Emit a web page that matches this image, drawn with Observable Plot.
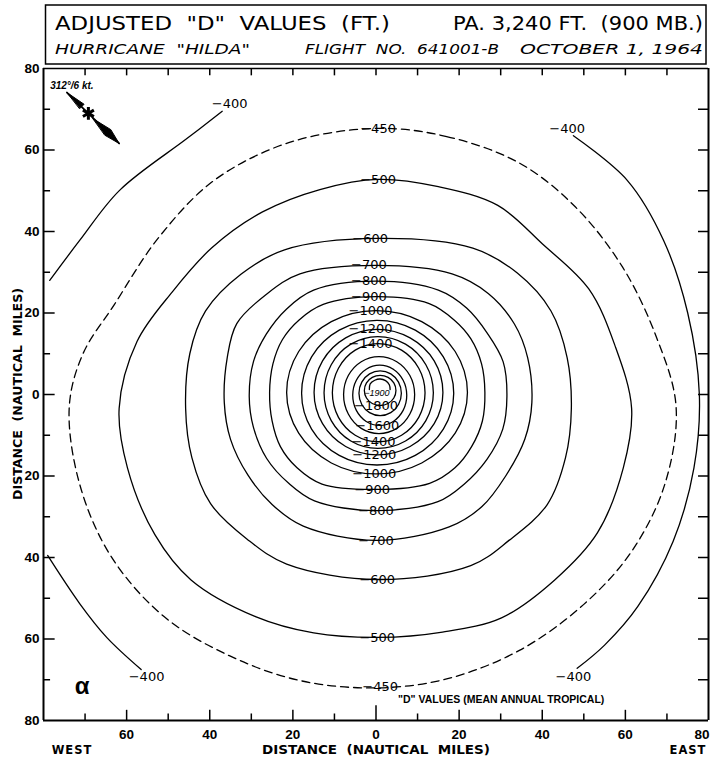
<!DOCTYPE html>
<html><head><meta charset="utf-8">
<script src="https://cdn.jsdelivr.net/npm/d3@7"></script>
<script src="https://cdn.jsdelivr.net/npm/@observablehq/plot@0.6"></script>
<style>body{margin:0;background:#fff} svg{display:block}</style>
</head><body><div id="chart"></div>
<script>
// ---- contour lines (nautical miles, x east, y north) ----
const c450 = [[0,65.3],[17,63.3],[34.5,56.8],[48,46],[59.3,31.3],[67.5,14],[72.2,-3],[69.5,-22],[61.5,-38.5],[50,-51.5],[34.5,-62.8],[17,-69.8],[0,-72],[-18.3,-70.2],[-35.3,-64.1],[-51,-54.5],[-63.7,-39.8],[-71.3,-22],[-73.8,-3],[-70.5,10],[-63,22],[-52.3,38.5],[-39,52.5],[-21,61.8]];
const c500 = [[0.5,52.8],[15,51],[29.3,46.4],[40,37],[51.2,25.9],[57.5,12],[61.5,-3.4],[59.5,-18],[53.3,-33.9],[43,-45.5],[30.2,-54.8],[16,-58.3],[0.5,-59.6],[-15,-58.5],[-29,-54.5],[-44.5,-45.5],[-53.2,-34.4],[-59.8,-18],[-61.8,-3.4],[-57.5,13],[-49,25.2],[-39.5,36],[-27.3,44.8],[-13.5,50.3]];
const c600 = [[0.5,38.3],[23.3,35.9],[34,29.8],[42.1,20.5],[46,9],[47,-3.5],[45.6,-15.5],[41.2,-27],[32,-35.8],[22.8,-42],[0.5,-45.4],[-21.5,-41.6],[-31,-35.5],[-39.8,-26.8],[-44.3,-15.5],[-45.8,-3.5],[-44.8,10],[-41,20.5],[-32.5,29.5],[-22,35.5]];
const c700 = [[0,31.7],[18.3,29.6],[27,24.8],[33.3,17.3],[36.5,9],[37.5,-2],[35.8,-11],[31.2,-20],[25.5,-27.5],[17.6,-32.5],[0,-35.8],[-17.5,-32.3],[-25,-27],[-30.8,-19.8],[-35,-11],[-36.5,-2],[-35.8,9],[-33.5,17.4],[-26.5,24.5],[-18.3,29.6]];
const c800 = [[0,27.8],[15,25.6],[21.8,21.2],[26.8,15],[30.6,8],[31.5,-0.5],[30.5,-8.5],[26.7,-15.9],[21.2,-22],[14.9,-26.3],[0,-28.5],[-14.8,-26.1],[-21,-21.8],[-26.3,-15.7],[-29.5,-8],[-30.5,-0.5],[-29.5,8],[-26.4,14.8],[-21.5,21],[-15,25.6]];
const c900 = [[0,24],[12.8,22.3],[18.8,18.3],[22.8,13.7],[25.4,7.5],[26.2,0.5],[25.6,-6.5],[23,-12.8],[19,-18],[12.9,-21.8],[0,-23.3],[-13,-22],[-19,-18],[-23,-12.8],[-25,-6.5],[-25.6,0.5],[-24.8,7.5],[-22.5,13.5],[-18.5,18.3],[-12.7,22.1]];
const c1000 = [[0,20.6],[11,17.9],[19.05,10.55],[22,0.5],[19.05,-9.5],[11,-16.8],[0,-19.5],[-10.75,-16.8],[-18.6,-9.5],[-21.5,0.5],[-18.6,10.55],[-10.75,17.9]];
const c1100 = [[0.2,18.2],[9.45,15.8],[16.2,9.25],[18.7,0.3],[16.2,-8.5],[9.45,-14.95],[0.2,-17.3],[-8.85,-14.95],[-15.5,-8.5],[-17.9,0.3],[-15.5,9.25],[-8.85,15.8]];
const c1200 = [[0.3,16],[8.2,13.9],[14,8.25],[16.1,0.5],[14,-7.15],[8.2,-12.75],[0.3,-14.8],[-7.3,-12.75],[-12.86,-7.15],[-14.9,0.5],[-12.86,8.25],[-7.3,13.9]];
const c1300 = [[0.4,14.2],[7.1,12.35],[12,7.3],[13.8,0.4],[12,-6.4],[7.1,-11.4],[0.4,-13.2],[-6.05,-11.4],[-10.77,-6.4],[-12.5,0.4],[-10.77,7.3],[-6.05,12.35]];
const c1400 = [[0.5,12.5],[6.15,10.88],[10.29,6.45],[11.8,0.4],[10.29,-5.6],[6.15,-9.99],[0.5,-11.6],[-5,-9.99],[-9.03,-5.6],[-10.5,0.4],[-9.03,6.45],[-5,10.88]];
const c1500 = [[0.7,9.3],[5,8.05],[8.15,4.65],[9.3,0],[8.15,-4.8],[5,-8.31],[0.7,-9.6],[-3.55,-8.31],[-6.66,-4.8],[-7.8,0],[-6.66,4.65],[-3.55,8.05]];
const c1600 = [[0.9,7.2],[4.15,6.21],[6.53,3.5],[7.4,-0.2],[6.53,-3.9],[4.15,-6.61],[0.9,-7.6],[-2.35,-6.61],[-4.73,-3.9],[-5.6,-0.2],[-4.73,3.5],[-2.35,6.21]];
const c1700 = [[1,5.8],[3.55,5.06],[5.42,3.05],[6.1,0.3],[5.42,-2.45],[3.55,-4.46],[1,-5.2],[-1.55,-4.46],[-3.42,-2.45],[-4.1,0.3],[-3.42,3.05],[-1.55,5.06]];
const c1800 = [[1,4.7],[2.9,4.2],[4.29,2.85],[4.8,1],[4.29,-0.85],[2.9,-2.2],[1,-2.7],[-0.9,-2.2],[-2.29,-0.85],[-2.8,1],[-2.29,2.85],[-0.9,4.2]];
const c1900 = [[-1.6,1.2],[-1.4,2.6],[-0.3,3.5],[1,3.8],[2.3,3.4],[3.2,2.4],[3.4,1.2]];
const c400nw = [[-78.5,28],[-71.3,37.8],[-61.7,50.1],[-45.5,62.8],[-37,69.5]];
const c400sw = [[-79,-39.5],[-71.3,-51.3],[-64.8,-59.6],[-56.5,-67.5]];
const c400e = [[47.5,63.5],[60.5,52.5],[69.2,37.8],[75,20],[77.8,0],[76.5,-18],[71.5,-36],[63,-52],[55,-61.5],[48.4,-67.2]];

const contourLabels = [
  ["−450",0.5,65.3],["−500",0.5,52.8],["−600",-1.4,38.3],["−700",-1.7,31.7],["−800",-1.7,27.8],
  ["−900",-1.7,24],["−1000",-1.3,20.6],["−1200",-1.3,16],["−1400",-1.3,12.5],
  ["−1800",0,-2.7],["−1600",0.3,-7.6],["−1400",-0.6,-11.5],["−1200",-0.4,-14.8],["−1000",-0.4,-19.4],
  ["−900",-0.9,-23.3],["−800",0,-28.5],["−700",0,-35.8],["−600",0.3,-45.4],["−500",0.3,-59.6],["−450",1,-71.8],
  ["−400",-35.2,71.4],["−400",46,65.3],["−400",-55.2,-69.4],["−400",47.5,-69.4]
];
const centerLabel = [["−1900",0.2,0.4]];

// storm motion symbol
const motionText = [["312°/6 kt.",-78.4,75.8]];
const motionStar = [[-69.2,69]];
const motionWedges = [
  [[-74.35,74.1],[-70.24,71.22],[-71.26,70.18]],
  [[-68.1,67.7],[-63.8,65.0],[-61.8,61.6],[-65.2,63.6]]
];
const motionShaft = [[-74.35,74.1],[-61.8,61.6]];

// axes
const yTickMajor = [-60,-40,-20,0,20,40,60];
const yTickMinor = [-70,-50,-30,-10,10,30,50,70];
const yLabelPos = [-80,-60,-40,-20,0,20,40,60,80];
const yTickLabels = ["80","60","40","20","0","20","40","60","80"];
const xTickMajor = [-60,-40,-20,20,40,60];
const xTickMinor = [-70,-50,-30,-10,10,30,50,70];
const xLabelPos = [-60,-40,-20,0,20,40,60];
const xTickLabels = ["60","40","20","0","20","40","60"];
const xEndLabel = [[80,"80"]];

const closedRings = [[500,c500],[600,c600],[700,c700],[800,c800],[900,c900],[1000,c1000],[1100,c1100],[1200,c1200],[1300,c1300],[1400,c1400],[1500,c1500],[1600,c1600],[1700,c1700],[1800,c1800]];
const ringTable = closedRings.flatMap(([lev, pts]) => pts.map(([x,y]) => ({level: lev, x, y})));
const dashedTable = c450.map(([x,y]) => ({x, y}));
const openLines = [["1900",c1900],["400nw",c400nw],["400sw",c400sw],["400e",c400e]];
const openTable = openLines.flatMap(([id, pts]) => pts.map(([x,y]) => ({id, x, y})));
const wedgeTable = motionWedges.flatMap((pts,i) => pts.map(([x,y]) => ({id:i, x, y})));
const allTicks = yTickMinor.concat(yTickMajor);
const allXTicks = xTickMinor.concat(xTickMajor, [0]);

const FONT = "'Liberation Sans', 'DejaVu Sans', sans-serif";
const LFONT = "'DejaVu Sans', sans-serif";

const chart = Plot.plot({
  width: 710, height: 758,
  marginLeft: 43, marginRight: 2, marginTop: 68, marginBottom: 38,
  x: {domain: [-80, 80], axis: null},
  y: {domain: [-80, 80], axis: null},
  style: {fontFamily: FONT, background: "white", color: "black"},
  marks: [
    Plot.line(ringTable, {x: "x", y: "y", z: "level", curve: "catmull-rom-closed", stroke: "black", strokeWidth: 1.3}),
    Plot.line(dashedTable, {x: "x", y: "y", curve: "catmull-rom-closed", stroke: "black", strokeWidth: 1.3, strokeDasharray: "8,5"}),
    Plot.line(openTable, {x: "x", y: "y", z: "id", curve: "catmull-rom", stroke: "black", strokeWidth: 1.3}),
    Plot.text(contourLabels, {x: d => d[1], y: d => d[2], text: d => d[0], fontSize: 13, fontFamily: LFONT, fill: "black", ariaLabel: "clabels"}),
    Plot.text(centerLabel, {x: d => d[1], y: d => d[2], text: d => d[0], fontSize: 9, fontStyle: "italic", fill: "black"}),
    // storm motion
    Plot.line(wedgeTable, {x: "x", y: "y", z: "id", curve: "linear-closed", fill: "black", stroke: "black", strokeWidth: 1}),
    Plot.line(motionShaft, {x: d => d[0], y: d => d[1], stroke: "black", strokeWidth: 1.8}),
    Plot.dot(motionStar, {x: d => d[0], y: d => d[1], symbol: "asterisk", r: 6, stroke: "black", strokeWidth: 3}),
    Plot.text(motionText, {x: d => d[1], y: d => d[2], text: d => d[0], textAnchor: "start", fontSize: 10, fontWeight: "bold", fontStyle: "italic"}),
    // annotations
    Plot.text([["α",-70.7,-71.5]], {x: d => d[1], y: d => d[2], text: d => d[0], fontSize: 24, fontWeight: "bold"}),
    Plot.text([["\"D\" VALUES (MEAN ANNUAL TROPICAL)",5.3,-74.9]], {x: d => d[1], y: d => d[2], text: d => d[0], textAnchor: "start", fontSize: 10.5, fontWeight: "bold", ariaLabel: "note"}),
    // frame
    Plot.ruleX([-80, 80], {stroke: "black", strokeWidth: 2}),
    Plot.ruleY([-80], {stroke: "black", strokeWidth: 2}),
    Plot.ruleY([80], {stroke: "black", strokeWidth: 1.5}),
    // ticks
    Plot.ruleY(yTickMajor, {x1: -80, x2: -77.2, stroke: "black", strokeWidth: 1.5}),
    Plot.ruleY(yTickMinor, {x1: -80, x2: -78.3, stroke: "black", strokeWidth: 1.5}),
    Plot.ruleY(allTicks, {x1: 80, x2: 77.6, stroke: "black", strokeWidth: 1.5}),
    Plot.ruleX(allXTicks, {y1: 80, y2: 78.2, stroke: "black", strokeWidth: 1.5}),
    Plot.ruleX(xTickMajor, {y1: -80, y2: -77.5, stroke: "black", strokeWidth: 1.5}),
    Plot.ruleX(xTickMinor, {y1: -80, y2: -78.4, stroke: "black", strokeWidth: 1.5}),
    Plot.ruleX([0], {y1: -80, y2: -76.4, stroke: "black", strokeWidth: 1.5}),
    // tick labels
    Plot.text(yLabelPos, {x: -80, y: d => d, text: (d, i) => yTickLabels[i], dx: -4, textAnchor: "end", fontSize: 13.5, fontWeight: "bold"}),
    Plot.text(xLabelPos, {x: d => d, y: -80, text: (d, i) => xTickLabels[i], dy: 14, fontSize: 13.5, fontWeight: "bold"}),
    Plot.text(xEndLabel, {x: d => d[0], y: -80, text: d => d[1], dy: 14, dx: 1, textAnchor: "end", fontSize: 13.5, fontWeight: "bold"})
  ]
});

document.getElementById("chart").appendChild(chart);
const svg = d3.select(chart);

// white gaps behind contour labels
svg.selectAll('g[aria-label="clabels"] text').each(function () {
  const b = this.getBBox();
  const rect = document.createElementNS("http://www.w3.org/2000/svg", "rect");
  rect.setAttribute("x", b.x - 1.5);
  rect.setAttribute("y", b.y + 3);
  rect.setAttribute("width", b.width + 3);
  rect.setAttribute("height", Math.max(1, b.height - 6));
  rect.setAttribute("fill", "white");
  const tr = this.getAttribute("transform");
  if (tr) rect.setAttribute("transform", tr);
  this.parentNode.insertBefore(rect, this);
});
svg.selectAll('g[aria-label="note"] text').style("letter-spacing", "2.4px");

// title block and axis titles
const g = svg.append("g").attr("fill", "black").style("font-family", "'DejaVu Sans', sans-serif");
g.append("rect").attr("x", 45.5).attr("y", 5).attr("width", 660.5).attr("height", 59).attr("fill", "none").attr("stroke", "black").attr("stroke-width", 1.5);
const t = (x, y, s, size, anchor, len, style) => {
  const e = g.append("text").attr("x", x).attr("y", y).attr("font-size", size)
    .attr("text-anchor", anchor).attr("dominant-baseline", "central").text(s);
  if (len) e.attr("textLength", len).attr("lengthAdjust", "spacingAndGlyphs");
  if (style) e.attr("font-style", style);
  return e;
};
t(55, 23, "ADJUSTED  \"D\"  VALUES  (FT.)", 19, "start", 335);
t(703, 23, "PA. 3,240 FT.  (900 MB.)", 19, "end", 250);
t(55, 49, "HURRICANE  \"HILDA\"", 14, "start", 195, "italic");
t(305, 49, "FLIGHT  NO.  641001-B", 14, "start", 194, "italic");
t(703, 49, "OCTOBER 1, 1964", 14, "end", 183, "italic");
t(72, 750, "WEST", 11.5, "middle", 0).attr("font-weight", "bold").style("letter-spacing", "1px");
t(688, 750, "EAST", 11.5, "middle", 0).attr("font-weight", "bold").style("letter-spacing", "1px");
t(376, 750, "DISTANCE  (NAUTICAL  MILES)", 11.5, "middle", 228).attr("font-weight", "bold");
g.append("text").attr("transform", "translate(18,394) rotate(-90)").attr("font-size", 11.5)
  .attr("font-weight", "bold").attr("text-anchor", "middle").attr("dominant-baseline", "central")
  .attr("textLength", 212).attr("lengthAdjust", "spacingAndGlyphs").text("DISTANCE  (NAUTICAL  MILES)");
</script>
</body></html>
